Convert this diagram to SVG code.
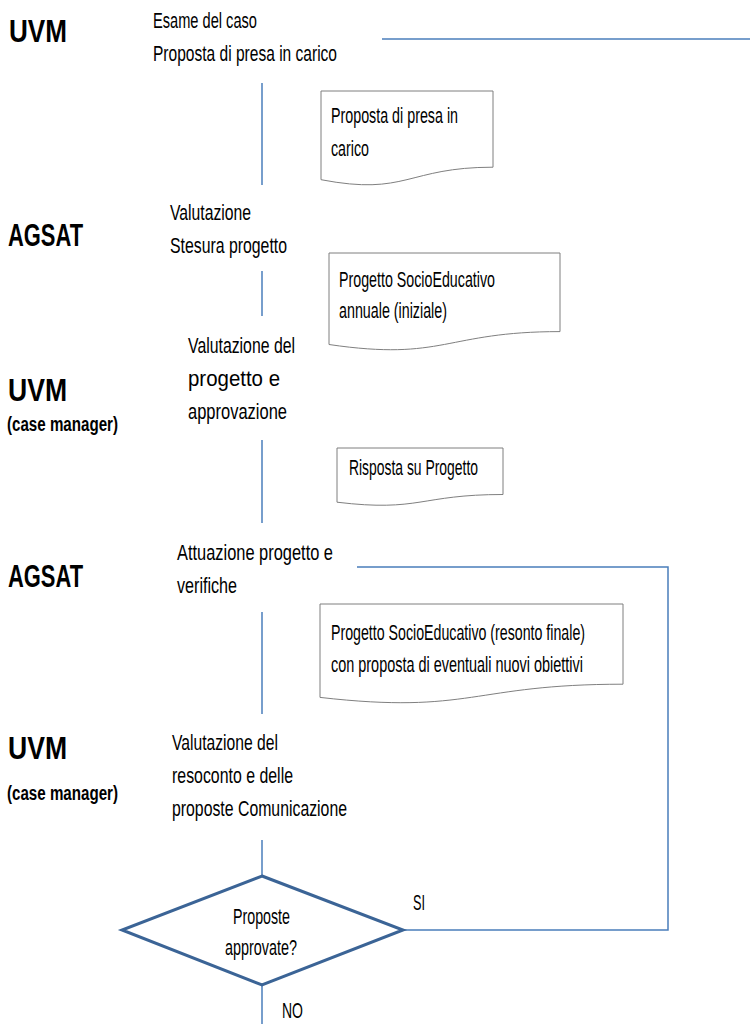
<svg xmlns="http://www.w3.org/2000/svg" width="750" height="1024" viewBox="0 0 750 1024">
<style>
.t{font-family:"Liberation Sans",Arial,sans-serif;font-size:22px;fill:#000}
.b{font-family:"Liberation Sans",Arial,sans-serif;font-size:32px;font-weight:bold;fill:#000}
.s{font-family:"Liberation Sans",Arial,sans-serif;font-size:20px;font-weight:bold;fill:#000}
.doc{fill:#fff;stroke:#7f7f7f;stroke-width:1}
.c{fill:none;stroke:#4a7ebb;stroke-width:1.5}
.d{fill:#fff;stroke:#3b6496;stroke-width:3;stroke-linejoin:miter}
</style>
<rect width="750" height="1024" fill="#fff"/>
<g id="connectors">
<line class="c" x1="382" y1="39" x2="750" y2="39"/>
<line class="c" x1="262" y1="83" x2="262" y2="185"/>
<line class="c" x1="262" y1="271" x2="262" y2="316"/>
<line class="c" x1="262" y1="440" x2="262" y2="523"/>
<line class="c" x1="262" y1="612" x2="262" y2="714"/>
<line class="c" x1="262" y1="840" x2="262" y2="876"/>
<line class="c" x1="262" y1="985" x2="262" y2="1024"/>
<polyline class="c" points="357,567 668,567 668,930 403,930"/>
</g>
<g id="lane-labels">
<text class="b" x="9" y="42" textLength="58" lengthAdjust="spacingAndGlyphs">UVM</text>
<text class="b" x="8" y="246" textLength="75" lengthAdjust="spacingAndGlyphs">AGSAT</text>
<text class="b" x="8" y="401" textLength="59" lengthAdjust="spacingAndGlyphs">UVM</text>
<text class="s" x="7" y="431" textLength="111" lengthAdjust="spacingAndGlyphs">(case manager)</text>
<text class="b" x="8" y="587" textLength="75" lengthAdjust="spacingAndGlyphs">AGSAT</text>
<text class="b" x="8" y="759" textLength="59" lengthAdjust="spacingAndGlyphs">UVM</text>
<text class="s" x="7" y="800" textLength="111" lengthAdjust="spacingAndGlyphs">(case manager)</text>
</g>
<g id="step1">
<text class="t" x="153" y="28" textLength="104" lengthAdjust="spacingAndGlyphs">Esame del caso</text>
<text class="t" x="153" y="61" textLength="184" lengthAdjust="spacingAndGlyphs">Proposta di presa in carico</text>
</g>
<g id="doc1">
<path class="doc" d="M321,91 H493 V167.2 C407,167.2 407,196.2 321,179.7 Z"/>
<text class="t" x="331" y="123" textLength="127" lengthAdjust="spacingAndGlyphs">Proposta di presa in</text>
<text class="t" x="331" y="156" textLength="38" lengthAdjust="spacingAndGlyphs">carico</text>
</g>
<g id="step2">
<text class="t" x="170" y="220" textLength="81" lengthAdjust="spacingAndGlyphs">Valutazione</text>
<text class="t" x="170" y="253" textLength="117" lengthAdjust="spacingAndGlyphs">Stesura progetto</text>
</g>
<g id="doc2">
<path class="doc" d="M329,253 H560 V331.6 C444.5,331.6 444.5,361.5 329,344.5 Z"/>
<text class="t" x="339" y="287" textLength="156" lengthAdjust="spacingAndGlyphs">Progetto SocioEducativo</text>
<text class="t" x="339" y="318" textLength="108" lengthAdjust="spacingAndGlyphs">annuale (iniziale)</text>
</g>
<g id="step3">
<text class="t" x="188" y="353" textLength="107" lengthAdjust="spacingAndGlyphs">Valutazione del</text>
<text class="t" x="188" y="386" textLength="92" lengthAdjust="spacingAndGlyphs">progetto e</text>
<text class="t" x="188" y="419" textLength="99" lengthAdjust="spacingAndGlyphs">approvazione</text>
</g>
<g id="doc3">
<path class="doc" d="M337,448 H503 V494.5 C420,494.5 420,512.2 337,502.2 Z"/>
<text class="t" x="349" y="475" textLength="129" lengthAdjust="spacingAndGlyphs">Risposta su Progetto</text>
</g>
<g id="step4">
<text class="t" x="177" y="560" textLength="156" lengthAdjust="spacingAndGlyphs">Attuazione progetto e</text>
<text class="t" x="177" y="593" textLength="60" lengthAdjust="spacingAndGlyphs">verifiche</text>
</g>
<g id="doc4">
<path class="doc" d="M320,604 H623 V684.2 C471.5,684.2 471.5,714.7 320,697.4 Z"/>
<text class="t" x="331" y="640" textLength="254" lengthAdjust="spacingAndGlyphs">Progetto SocioEducativo (resonto finale)</text>
<text class="t" x="331" y="672" textLength="252" lengthAdjust="spacingAndGlyphs">con proposta di eventuali nuovi obiettivi</text>
</g>
<g id="step5">
<text class="t" x="172" y="750" textLength="106" lengthAdjust="spacingAndGlyphs">Valutazione del</text>
<text class="t" x="172" y="783" textLength="121" lengthAdjust="spacingAndGlyphs">resoconto e delle</text>
<text class="t" x="172" y="816" textLength="175" lengthAdjust="spacingAndGlyphs">proposte Comunicazione</text>
</g>
<g id="decision">
<polygon class="d" points="262,876 403,930 262,985 122,930"/>
<text class="t" x="233" y="924" textLength="57" lengthAdjust="spacingAndGlyphs">Proposte</text>
<text class="t" x="225" y="955" textLength="72" lengthAdjust="spacingAndGlyphs">approvate?</text>
</g>
<g id="branch-labels">
<text class="t" x="413" y="910" textLength="12" lengthAdjust="spacingAndGlyphs">SI</text>
<text class="t" x="282" y="1018" textLength="21" lengthAdjust="spacingAndGlyphs">NO</text>
</g>
</svg>
